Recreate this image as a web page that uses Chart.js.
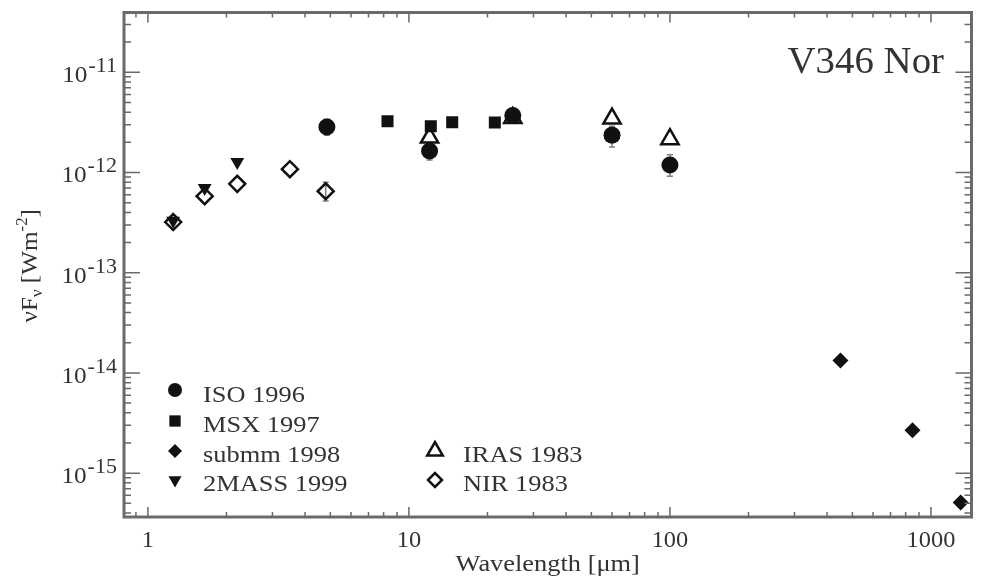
<!DOCTYPE html>
<html>
<head>
<meta charset="utf-8">
<script src="https://cdn.jsdelivr.net/npm/chart.js@4"></script>
<style>
body { margin: 0; background: #fff; }
#wrap { width: 984px; height: 582px; }
</style>
</head>
<body>
<div id="wrap"><canvas id="sed"></canvas></div>
<script>
// wavelength in micron, nuFnu in W m^-2
const isoWave = [4.85, 12, 25, 60, 100];
const isoFlux = [2.85e-12, 1.64e-12, 3.7e-12, 2.36e-12, 1.19e-12];
const isoLow = [2.35e-12, 1.33e-12, 3.3e-12, 1.8e-12, 0.92e-12];
const isoHigh = [3.4e-12, 2.0e-12, 4.1e-12, 2.9e-12, 1.5e-12];

const msxWave = [8.28, 12.13, 14.65, 21.34];
const msxFlux = [3.25e-12, 2.9e-12, 3.17e-12, 3.15e-12];

const submmWave = [450, 850, 1300];
const submmFlux = [1.33e-14, 2.68e-15, 5.1e-16];

const tmassWave = [1.25, 1.65, 2.2];
const tmassFlux = [3.3e-13, 7.0e-13, 1.27e-12];

const irasWave = [12, 25, 60, 100];
const irasFlux = [2.23e-12, 3.5e-12, 3.45e-12, 2.15e-12];

const nirWave = [1.25, 1.65, 2.2, 3.5, 4.8];
const nirFlux = [3.2e-13, 5.8e-13, 7.7e-13, 1.08e-12, 6.5e-13];
const nirLow = [null, null, null, null, 5.2e-13];
const nirHigh = [null, null, null, null, 8.0e-13];

const xTicks = [1, 10, 100, 1000];
const yTicks = [1e-15, 1e-14, 1e-13, 1e-12, 1e-11];
const yTickExp = ['-15', '-14', '-13', '-12', '-11'];

const INK = '#111';
const TXT = '#333';
const SERIF = '"Liberation Serif", "DejaVu Serif", serif';

function pts(xs, ys) {
    return xs.map((x, i) => ({ x: x, y: ys[i] }));
}

// text a bit wider than the font, like the scanned figure
function wideText(ctx, str, x, y, size, align, sx) {
    ctx.save();
    ctx.font = size + 'px ' + SERIF;
    const w = ctx.measureText(str).width * sx;
    let left = x;
    if (align === 'center') left = x - w / 2;
    if (align === 'right') left = x - w;
    ctx.translate(left, y);
    ctx.scale(sx, 1);
    ctx.textAlign = 'left';
    ctx.fillText(str, 0, 0);
    ctx.restore();
    return w;
}

function marker(ctx, shape, x, y, r, filled) {
    ctx.save();
    ctx.beginPath();
    if (shape === 'circle') {
        ctx.arc(x, y, r, 0, Math.PI * 2);
    } else if (shape === 'rect') {
        const s = r * Math.SQRT1_2;
        ctx.rect(x - s, y - s, 2 * s, 2 * s);
    } else if (shape === 'diamond') {
        ctx.moveTo(x - r, y); ctx.lineTo(x, y - r); ctx.lineTo(x + r, y); ctx.lineTo(x, y + r); ctx.closePath();
    } else if (shape === 'tri') {
        const h = r * 0.866;
        ctx.moveTo(x - h, y + r / 2); ctx.lineTo(x + h, y + r / 2); ctx.lineTo(x, y - r); ctx.closePath();
    } else if (shape === 'triDown') {
        const h = r * 0.866;
        ctx.moveTo(x - h, y - r / 2); ctx.lineTo(x + h, y - r / 2); ctx.lineTo(x, y + r); ctx.closePath();
    }
    if (filled) {
        ctx.fillStyle = INK;
        ctx.fill();
    } else {
        ctx.strokeStyle = INK;
        ctx.lineWidth = 2.5;
        ctx.stroke();
    }
    ctx.restore();
}

function logValues(min, max) {
    const out = [];
    for (let e = Math.floor(Math.log10(min)); e <= Math.ceil(Math.log10(max)); e++) {
        for (let m = 1; m < 10; m++) {
            const v = m * Math.pow(10, e);
            if (v >= min * 0.999 && v <= max * 1.001) out.push({ v: v, major: m === 1 });
        }
    }
    return out;
}

// error bars under the points
const errorBars = {
    id: 'errorBars',
    beforeDatasetsDraw(chart) {
        const { ctx, scales: { x, y } } = chart;
        ctx.save();
        ctx.strokeStyle = '#808080';
        ctx.lineWidth = 1.5;
        const draw = (xs, lo, hi) => {
            xs.forEach((w, i) => {
                if (lo[i] == null) return;
                const px = x.getPixelForValue(w);
                const y1 = y.getPixelForValue(lo[i]);
                const y2 = y.getPixelForValue(hi[i]);
                ctx.beginPath();
                ctx.moveTo(px, y1); ctx.lineTo(px, y2);
                ctx.moveTo(px - 3, y1); ctx.lineTo(px + 3, y1);
                ctx.moveTo(px - 3, y2); ctx.lineTo(px + 3, y2);
                ctx.stroke();
            });
        };
        draw(isoWave, isoLow, isoHigh);
        draw(nirWave, nirLow, nirHigh);
        ctx.restore();
    }
};

// frame, inward ticks, labels, legend
const decor = {
    id: 'decor',
    afterDraw(chart) {
        const { ctx, chartArea: a, scales: { x, y } } = chart;
        ctx.save();
        ctx.strokeStyle = '#6a6a6a';
        ctx.lineWidth = 1.5;
        ctx.beginPath();
        logValues(x.min, x.max).forEach(t => {
            const px = x.getPixelForValue(t.v);
            const len = t.major ? 10 : 5;
            ctx.moveTo(px, a.bottom); ctx.lineTo(px, a.bottom - len);
            ctx.moveTo(px, a.top); ctx.lineTo(px, a.top + len);
        });
        logValues(y.min, y.max).forEach(t => {
            const py = y.getPixelForValue(t.v);
            const len = t.major ? 16 : 7;
            ctx.moveTo(a.left, py); ctx.lineTo(a.left + len, py);
            ctx.moveTo(a.right, py); ctx.lineTo(a.right - len, py);
        });
        ctx.stroke();
        ctx.lineWidth = 3;
        ctx.strokeRect(a.left, a.top, a.right - a.left, a.bottom - a.top);

        ctx.fillStyle = TXT;
        // x tick labels
        xTicks.forEach(v => {
            wideText(ctx, String(v), x.getPixelForValue(v), 547, 23, 'center', 1.06);
        });
        // y tick labels, 10 with superscript exponent
        yTicks.forEach((v, i) => {
            const py = y.getPixelForValue(v);
            const supW = wideText(ctx, yTickExp[i], a.left - 7, py, 21, 'right', 1.05);
            wideText(ctx, '10', a.left - 8 - supW, py + 10, 24, 'right', 1.05);
        });
        // x title
        wideText(ctx, 'Wavelength [μm]', (a.left + a.right) / 2, 571, 24, 'center', 1.1);
        // y title, rotated
        ctx.save();
        ctx.translate(37, (a.top + a.bottom) / 2 + 1);
        ctx.rotate(-Math.PI / 2);
        const parts = [
            ['νF', 24, 0], ['ν', 16, 5], [' [Wm', 24, 0], ['-2', 16, -10], [']', 24, 0]
        ];
        let total = 0;
        parts.forEach(p => { ctx.font = p[1] + 'px ' + SERIF; total += ctx.measureText(p[0]).width * 1.05; });
        let cx = -total / 2;
        parts.forEach(p => {
            cx += wideText(ctx, p[0], cx, p[2], p[1], 'left', 1.05);
        });
        ctx.restore();
        // object name
        wideText(ctx, 'V346 Nor', 944, 73, 37, 'right', 1.05);
        // legend
        const rows = [
            ['circle', true, 'ISO 1996', 175, 390, 402],
            ['rect', true, 'MSX 1997', 175, 421, 432],
            ['diamond', true, 'submm 1998', 175, 451, 462],
            ['triDown', true, '2MASS 1999', 175, 480, 491],
            ['tri', false, 'IRAS 1983', 435, 451, 462],
            ['diamond', false, 'NIR 1983', 435, 480, 491]
        ];
        const sizes = { circle: 7, rect: 8, diamond: 7, triDown: 7.5, tri: 9 };
        rows.forEach(r => {
            marker(ctx, r[0], r[3], r[4], sizes[r[0]], r[1]);
            ctx.fillStyle = TXT;
            wideText(ctx, r[2], r[3] + 28, r[5], 24, 'left', 1.1);
        });
        ctx.restore();
    }
};

new Chart(document.getElementById('sed'), {
    type: 'scatter',
    data: {
        datasets: [
            { label: 'ISO 1996', data: pts(isoWave, isoFlux), pointStyle: 'circle', pointRadius: 8.5,
              backgroundColor: INK, borderColor: INK, borderWidth: 0 },
            { label: 'MSX 1997', data: pts(msxWave, msxFlux), pointStyle: 'rect', pointRadius: 8.5,
              backgroundColor: INK, borderColor: INK, borderWidth: 0 },
            { label: 'submm 1998', data: pts(submmWave, submmFlux), pointStyle: 'rectRot', pointRadius: 8,
              backgroundColor: INK, borderColor: INK, borderWidth: 0 },
            { label: '2MASS 1999', data: pts(tmassWave, tmassFlux), pointStyle: 'triangle', rotation: 180, pointRadius: 8,
              backgroundColor: INK, borderColor: INK, borderWidth: 0 },
            { label: 'IRAS 1983', data: pts(irasWave, irasFlux), pointStyle: 'triangle', pointRadius: 10,
              backgroundColor: 'rgba(0,0,0,0)', borderColor: INK, borderWidth: 2.5 },
            { label: 'NIR 1983', data: pts(nirWave, nirFlux), pointStyle: 'rectRot', pointRadius: 8,
              backgroundColor: 'rgba(0,0,0,0)', borderColor: INK, borderWidth: 2.5 }
        ]
    },
    options: {
        responsive: true,
        maintainAspectRatio: false,
        animation: false,
        layout: { padding: { left: 124, top: 12, right: 3, bottom: 65 } },
        plugins: {
            legend: { display: false },
            tooltip: { enabled: false }
        },
        scales: {
            x: { type: 'logarithmic', min: 0.81, max: 1430, display: false },
            y: { type: 'logarithmic', min: 3.65e-16, max: 3.95e-11, display: false }
        }
    },
    plugins: [errorBars, decor]
});
</script>
</body>
</html>
